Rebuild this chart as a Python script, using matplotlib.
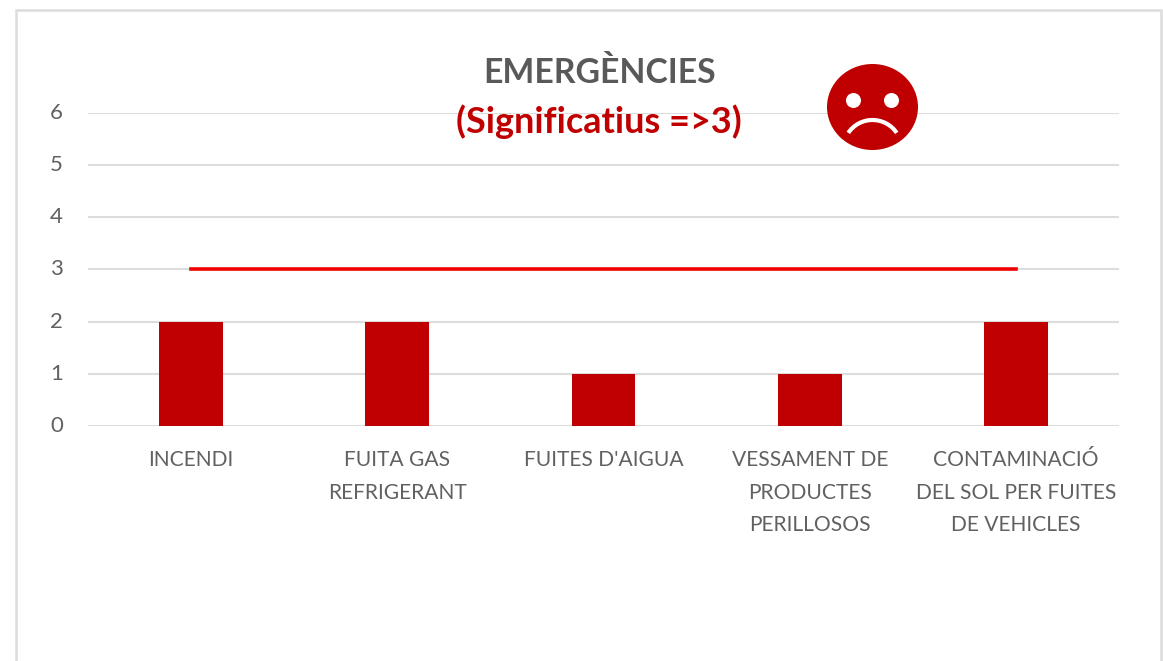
import matplotlib
matplotlib.use("Agg")
import matplotlib.pyplot as plt
from matplotlib.patches import Ellipse, Circle, Arc
from matplotlib.transforms import ScaledTranslation

categories = ["INCENDI", "FUITA GAS\nREFRIGERANT", "FUITES D'AIGUA",
              "VESSAMENT DE\nPRODUCTES\nPERILLOSOS",
              "CONTAMINACIÓ\nDEL SOL PER FUITES\nDE VEHICLES"]
values = [2, 2, 1, 1, 2]
threshold = [3, 3, 3, 3, 3]
y_ticks = [0, 1, 2, 3, 4, 5, 6]

W, H = 1163, 661
plt.rcParams['font.family'] = ['Lato', 'DejaVu Sans']
fig = plt.figure(figsize=(W / 100, H / 100), dpi=100, facecolor="white")

# pixel-space overlay for frame and face
bg = fig.add_axes([0, 0, 1, 1], zorder=0)
bg.set_xlim(0, W); bg.set_ylim(H, 0); bg.axis("off")
bg.plot([16, 16, 1161, 1161], [H, 10, 10, H], color="#dcdcdc", lw=1.8, solid_joinstyle="miter")

left, right, top, bottom = 88, 1119, 113, 426
ax = fig.add_axes([left / W, 1 - bottom / H, (right - left) / W, (bottom - top) / H], zorder=1)
ax.patch.set_alpha(0)
x = list(range(len(categories)))
ax.bar(x, values, width=0.31, color="#c00000", zorder=2)
ax.plot(x, threshold, color="#f00000", lw=2.6, zorder=3)
ax.set_xlim(-0.5, 4.5)
ax.set_ylim(0, 6)
ax.set_yticks(y_ticks)
ax.set_xticks(x)
ax.set_xticklabels(categories, linespacing=1.77)
ax.grid(axis="y", color="#dddddd", lw=1.5, zorder=1)
ax.set_axisbelow(True)
for s in ax.spines.values():
    s.set_visible(False)
ax.tick_params(axis="x", length=0, pad=17.5, labelsize=15.1, labelcolor="#616161")
ax.tick_params(axis="y", length=0, pad=18, labelsize=16, labelcolor="#616161")
shift = ScaledTranslation(0, 2 / 100, fig.dpi_scale_trans)
for lab in ax.get_yticklabels():
    lab.set_transform(lab.get_transform() + shift)

ov = fig.add_axes([0, 0, 1, 1], zorder=5)
ov.set_xlim(0, W); ov.set_ylim(H, 0); ov.axis("off")
ov.add_patch(Ellipse((872.5, 107), 91, 86, color="#c00000", lw=0))
ov.add_patch(Circle((853.5, 100.5), 7.5, color="white", lw=0))
ov.add_patch(Circle((891.5, 100.5), 7.5, color="white", lw=0))
ov.add_patch(Arc((872.5, 149.2), 58.4, 58.4, theta1=214, theta2=326, color="white", lw=3))

ov.text(600, 73, "EMERGÈNCIES", ha="center", va="center", fontsize=24.3,
        fontweight="bold", color="#595959")
ov.text(598.5, 122, "(Significatius =>3)", ha="center", va="center", fontsize=25.9,
        fontweight="bold", color="#c00000")

fig.savefig("out.png", dpi=100)
